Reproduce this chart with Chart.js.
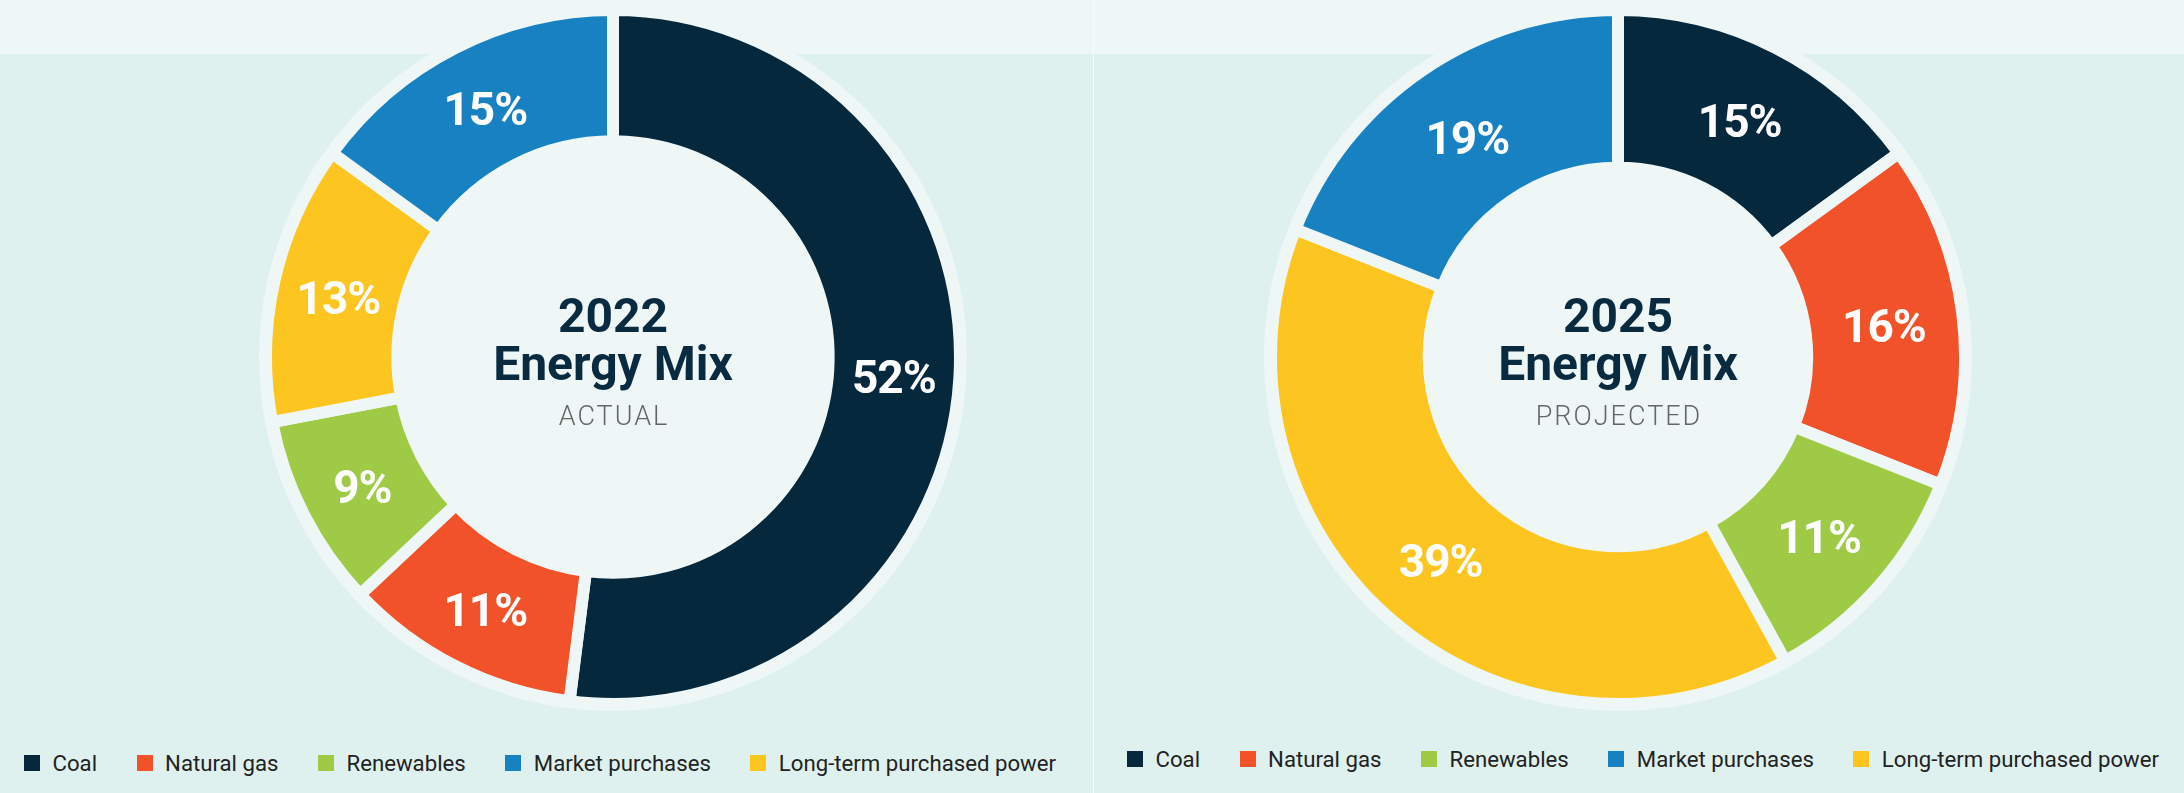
<!DOCTYPE html>
<html>
<head>
<meta charset="utf-8">
<script src="https://cdn.jsdelivr.net/npm/chart.js@4.4.1/dist/chart.umd.min.js"></script>
<style>
  html, body { margin: 0; padding: 0; }
  body {
    width: 2184px; height: 793px; position: relative; overflow: hidden;
    background: #dff1ef; font-family: Roboto, "Noto Sans", sans-serif;
  }
  #band { position: absolute; left: 0; top: 0; width: 2184px; height: 54px; background: #eef7f6; }
  #divider { position: absolute; left: 1093px; top: 0; width: 1px; height: 793px; background: #f6fcfb; }
  .pie { position: absolute; width: 720px; height: 720px; }
  .legend { position: absolute; display: flex; align-items: center; font-size: 22.2px; color: #222; white-space: nowrap; }
  .legend .item { display: flex; align-items: center; margin-right: 39.5px; }
  .legend .box { width: 16px; height: 16px; margin-right: 12.5px; }
</style>
</head>
<body>
<div id="band"></div>
<div id="divider"></div>
<div class="pie" style="left:253px; top:-3.5px;"><canvas id="mix2022"></canvas></div>
<div class="pie" style="left:1258px; top:-3.5px;"><canvas id="mix2025"></canvas></div>
<div class="legend" id="legend2022" style="left:24px; top:750px;"></div>
<div class="legend" id="legend2025" style="left:1127px; top:746px;"></div>

<script>
/** Energy mix donuts, 2022 actual vs 2025 projected **/

// slice order, clockwise from 12 o'clock
const categories = ['Coal', 'Natural gas', 'Renewables', 'Long-term purchased power', 'Market purchases'];
const share2022 = [52, 11, 9, 13, 15];
const share2025 = [15, 16, 11, 39, 19];
const sliceColors = ['#06283d', '#f1522a', '#9fca45', '#fcc51f', '#1781c2'];

// legend reads in a different order than the slices
const legendOrder = ['Coal', 'Natural gas', 'Renewables', 'Market purchases', 'Long-term purchased power'];

const PALE = '#eef7f6';
const NAVY = '#0a2a40';

/* pale disc behind the ring, the gaps and the hole all share it */
const backdrop = {
  id: 'backdrop',
  beforeDatasetsDraw(chart) {
    const arc = chart.getDatasetMeta(0).data[0];
    const ctx = chart.ctx;
    ctx.save();
    ctx.fillStyle = PALE;
    ctx.beginPath();
    ctx.arc(arc.x, arc.y, arc.outerRadius + 7, 0, Math.PI * 2);
    ctx.fill();
    ctx.restore();
  }
};

/* percent on each slice + title in the hole */
const labels = {
  id: 'labels',
  afterDatasetsDraw(chart, args, opts) {
    const ctx = chart.ctx;
    const meta = chart.getDatasetMeta(0);
    const values = chart.data.datasets[0].data;
    ctx.save();
    ctx.textAlign = 'center';
    ctx.textBaseline = 'middle';
    ctx.fillStyle = '#ffffff';
    ctx.font = '700 46px Roboto';
    ctx.letterSpacing = '-1px';
    meta.data.forEach(function(arc, i) {
      const p = arc.tooltipPosition();
      ctx.fillText(values[i] + '%', p.x, p.y + 7);
    });

    const cx = meta.data[0].x, cy = meta.data[0].y;
    ctx.textBaseline = 'alphabetic';
    ctx.letterSpacing = '0px';
    ctx.fillStyle = NAVY;
    ctx.font = '700 48px Roboto';
    ctx.fillText(opts.year, cx, cy - 25);
    ctx.fillText('Energy Mix', cx, cy + 23);
    ctx.fillStyle = '#666666';
    ctx.font = '300 27px Roboto';
    ctx.letterSpacing = '2px';
    ctx.fillText(opts.note, cx + 1, cy + 68);
    ctx.restore();
  }
};

function donut(id, values, hole, year, note) {
  return new Chart(document.getElementById(id), {
    type: 'doughnut',
    data: {
      labels: categories,
      datasets: [{
        data: values,
        backgroundColor: sliceColors,
        borderColor: PALE,
        borderWidth: 12,
        borderJoinStyle: 'miter',
        hoverOffset: 0
      }]
    },
    options: {
      responsive: true,
      maintainAspectRatio: false,
      animation: false,
      events: [],
      radius: 347,
      cutout: hole,
      layout: { padding: 0 },
      plugins: {
        legend: { display: false },
        tooltip: { enabled: false },
        labels: { year: year, note: note }
      }
    },
    plugins: [backdrop, labels]
  });
}

function buildLegend(id) {
  const el = document.getElementById(id);
  legendOrder.forEach(function(name) {
    const item = document.createElement('div');
    item.className = 'item';
    const box = document.createElement('span');
    box.className = 'box';
    box.style.background = sliceColors[categories.indexOf(name)];
    const txt = document.createElement('span');
    txt.textContent = name;
    item.appendChild(box);
    item.appendChild(txt);
    el.appendChild(item);
  });
}

donut('mix2022', share2022, 220, '2022', 'ACTUAL');
donut('mix2025', share2025, 193, '2025', 'PROJECTED');
buildLegend('legend2022');
buildLegend('legend2025');
</script>
</body>
</html>
